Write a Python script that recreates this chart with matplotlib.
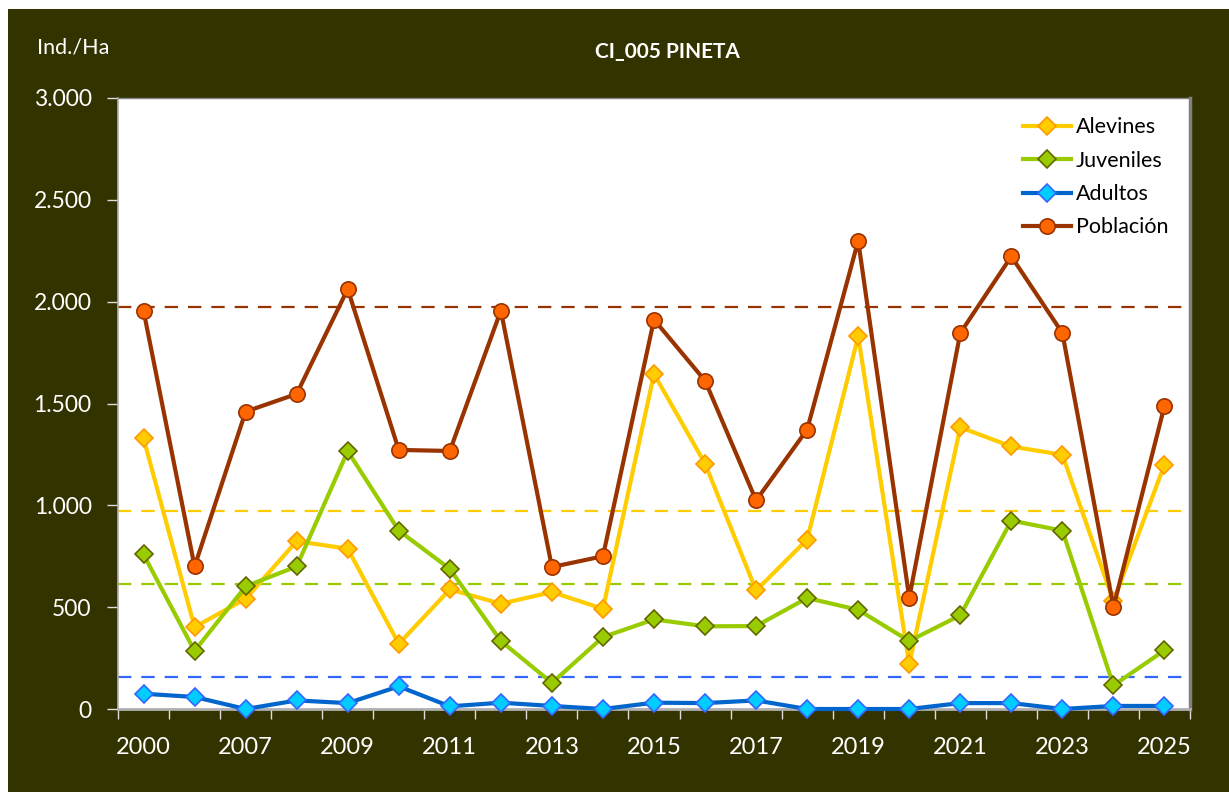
import matplotlib
matplotlib.use("Agg")
import matplotlib.pyplot as plt
from matplotlib.patches import Rectangle

years = ["2000", "2006", "2007", "2008", "2009", "2010", "2011", "2012", "2013", "2014",
         "2015", "2016", "2017", "2018", "2019", "2020", "2021", "2022", "2023", "2024", "2025"]
alevines = [1329, 402, 541, 824, 787, 320, 587, 517, 574, 492, 1645, 1205, 582, 832, 1830,
            219, 1383, 1289, 1248, 530, 1200]
juveniles = [759, 285, 602, 700, 1266, 876, 688, 334, 128, 353, 440, 406, 407, 545, 487,
             334, 460, 925, 876, 116, 288]
adultos = [75, 59, 0, 42, 29, 111, 13, 31, 15, 0, 31, 29, 42, 0, 0, 0, 29, 29, 0, 15, 15]
poblacion = [1956, 700, 1460, 1547, 2062, 1272, 1267, 1956, 697, 750, 1912, 1612, 1024, 1372,
             2299, 546, 1846, 2222, 1846, 500, 1488]
ref_levels = {"Población": 1975, "Alevines": 971, "Juveniles": 613, "Adultos": 157}
yticks = [0, 500, 1000, 1500, 2000, 2500, 3000]
ytick_labels = ["0", "500", "1.000", "1.500", "2.000", "2.500", "3.000"]

BG = "#333300"
FONT = ["Lato", "DejaVu Sans"]
plt.rcParams["font.family"] = FONT

fig = plt.figure(figsize=(12.29, 7.92), dpi=100)
fig.patch.set_facecolor("white")
bg = Rectangle((8 / 1229, 0), 1 - 8 / 1229, 1 - 9 / 792,
               transform=fig.transFigure, facecolor=BG, edgecolor="none", zorder=-10)
fig.add_artist(bg)

ax = fig.add_axes([118 / 1229, 1 - 709 / 792, (1190 - 118) / 1229, (709 - 98) / 792])
ax.set_zorder(1)
ax.set_facecolor("white")

x = list(range(len(years)))

ref_colors = {"Población": "#993300", "Alevines": "#FFCC00", "Juveniles": "#99CC00", "Adultos": "#3366FF"}
for name, lvl in ref_levels.items():
    ax.axhline(lvl, color=ref_colors[name], lw=1.6, ls=(0, (6, 4.5)), zorder=1)

series = [
    ("Alevines", alevines, "#FFCC00", "D", "#FFCC00", "#FF9900", 9),
    ("Juveniles", juveniles, "#99CC00", "D", "#99CC00", "#666600", 9),
    ("Adultos", adultos, "#0066CC", "D", "#00CCFF", "#3366FF", 9),
    ("Población", poblacion, "#993300", "o", "#FF6600", "#993300", 11),
]
handles = []
for i, (name, vals, lc, mk, mfc, mec, ms) in enumerate(series):
    ln, = ax.plot(x, vals, color=lc, lw=3, marker=mk, markerfacecolor=mfc,
                  markeredgecolor=mec, markeredgewidth=1.2, markersize=ms,
                  label=name, zorder=3 + i, clip_on=False)
    handles.append(ln)

ax.set_xlim(-0.5, len(years) - 0.5)
ax.set_ylim(0, 3000)

ax.set_yticks(yticks)
ax.set_yticklabels(ytick_labels)
ax.set_xticks(x[::2])
ax.set_xticklabels(years[::2])
ax.set_xticks([i - 0.5 for i in range(len(years) + 1)], minor=True)

ax.tick_params(axis="y", direction="out", length=8, width=1, color="#DDDDDD",
               labelcolor="white", labelsize=16.5, pad=11)
ax.tick_params(axis="x", which="major", length=0, labelcolor="white", labelsize=17, pad=20)
ax.tick_params(axis="x", which="minor", direction="out", length=7, width=1, color="#DDDDDD")

ax.spines["left"].set_color("#B0B0B0"); ax.spines["left"].set_linewidth(1.2)
ax.spines["bottom"].set_color("#B0B0B0"); ax.spines["bottom"].set_linewidth(2)
ax.spines["right"].set_color("#808080"); ax.spines["right"].set_linewidth(2.5)
ax.spines["top"].set_color("#808080"); ax.spines["top"].set_linewidth(1)

leg = ax.legend(handles=handles, loc="upper right", frameon=False, fontsize=15.5,
                handlelength=2.2, handletextpad=0.25, labelspacing=0.62,
                bbox_to_anchor=(0.998, 1.0))

fig.text(667 / 1229, 1 - 52 / 792, "CI_005 PINETA", color="white", fontsize=15,
         fontweight="bold", ha="center", va="center")
fig.text(37 / 1229, 1 - 48 / 792, "Ind./Ha", color="white", fontsize=15.5,
         ha="left", va="center")

fig.savefig("out.png", dpi=100, facecolor=fig.get_facecolor())
